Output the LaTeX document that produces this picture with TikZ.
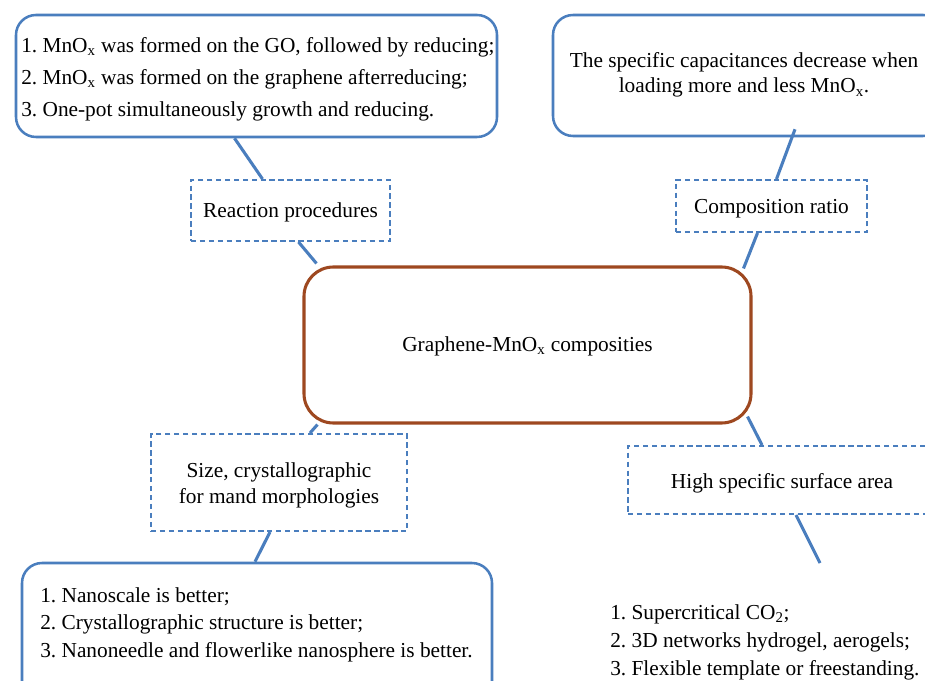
\documentclass[tikz,border=0pt]{standalone}
\usepackage{fontspec}
\setmainfont{Liberation Serif}
\frenchspacing
\definecolor{boxblue}{RGB}{74,126,190}
\definecolor{corebrown}{RGB}{158,72,32}
\newcommand{\mnox}{MnO\textsubscript{x}}
\tikzset{
  every node/.style={font=\fontsize{16pt}{24pt}\selectfont, text=black},
  roundbox/.style={draw=boxblue, line width=1.9pt, rounded corners=15pt, inner sep=0pt},
  dashbox/.style={draw=boxblue, line width=1.5pt, dash pattern=on 4pt off 2.7pt, inner sep=0pt},
  corebox/.style={draw=corebrown, line width=2.3pt, rounded corners=22pt, inner sep=0pt},
  link/.style={draw=boxblue, line width=2.3pt},
  listtext/.style={anchor=north west, align=left, inner sep=0pt},
}
\begin{document}
\begin{tikzpicture}[x=0.75pt, y=-0.75pt]
\path[use as bounding box] (0,0) rectangle (925,681);
\clip (0,0) rectangle (925,681);

% central topic
\node[corebox, minimum width=447*0.75pt, minimum height=156*0.75pt] (core) at (527.5,345) {};
\node (coret) at (527.5,346) {Graphene-\mnox{} composities};

% reaction procedures branch
\node[roundbox, minimum width=481*0.75pt, minimum height=122*0.75pt] (proc) at (256.5,76) {};
\node[listtext] (proct) at (21,37)
  {1. \mnox{} was formed on the GO, followed by reducing;\\
   2. \mnox{} was formed on the graphene afterreducing;\\
   3. One-pot simultaneously growth and reducing.};
\node[dashbox, minimum width=199*0.75pt, minimum height=61*0.75pt] (procl) at (290.5,210.5) {};
\node (proclt) at (290.5,212.5) {Reaction procedures};

% composition ratio branch
\node[roundbox, minimum width=390*0.75pt, minimum height=121*0.75pt] (ratio) at (748,75.5) {};
\node[align=center, font=\fontsize{16pt}{19pt}\selectfont] (ratiot) at (744,75)
  {The specific capacitances decrease when\\ loading more and less \mnox.};
\node[dashbox, minimum width=191*0.75pt, minimum height=52*0.75pt] (ratiol) at (771.5,206) {};
\node (ratiolt) at (771.5,209) {Composition ratio};

% morphology branch
\node[dashbox, minimum width=256*0.75pt, minimum height=97*0.75pt] (morph) at (279,482.5) {};
\node[align=center, font=\fontsize{16pt}{19.5pt}\selectfont] (morpht) at (279,485.5)
  {Size, crystallographic\\ for mand morphologies};
\node[roundbox, minimum width=470*0.75pt, minimum height=160*0.75pt] (morphb) at (257,643) {};
\node[listtext, font=\fontsize{16pt}{20.7pt}\selectfont] (morphl) at (40,587)
  {1. Nanoscale is better;\\
   2. Crystallographic structure is better;\\
   3. Nanoneedle and flowerlike nanosphere is better.};

% surface area branch
\node[dashbox, minimum width=320*0.75pt, minimum height=68*0.75pt] (surf) at (788,480) {};
\node (surft) at (782,483) {High specific surface area};
\coordinate (surfend) at (820,563);
\node[listtext, font=\fontsize{16pt}{21pt}\selectfont] (surfl) at (610,604)
  {1. Supercritical CO\textsubscript{2};\\
   2. 3D networks hydrogel, aerogels;\\
   3. Flexible template or freestanding.};

% connectors
\draw[link] ([xshift=-22*0.75pt]proc.south) -- ([xshift=-28*0.75pt]procl.north);
\draw[link] ([xshift=8*0.75pt]procl.south) -- ([xshift=-211*0.75pt, yshift=2*0.75pt]core.north);
\draw[link] ([xshift=47*0.75pt, yshift=8*0.75pt]ratio.south) -- ([xshift=5*0.75pt]ratiol.north);
\draw[link] ([xshift=-14*0.75pt]ratiol.south) -- ([xshift=216*0.75pt, yshift=-3*0.75pt]core.north);
\draw[link] ([xshift=-210*0.75pt]core.south) -- ([xshift=31*0.75pt]morph.north);
\draw[link] ([xshift=-9*0.75pt]morph.south) -- ([xshift=-2*0.75pt]morphb.north);
\draw[link] ([xshift=220*0.75pt, yshift=8*0.75pt]core.south) -- ([xshift=-26*0.75pt]surf.north);
\draw[link] ([xshift=8*0.75pt]surf.south) -- (surfend);
\end{tikzpicture}
\end{document}
